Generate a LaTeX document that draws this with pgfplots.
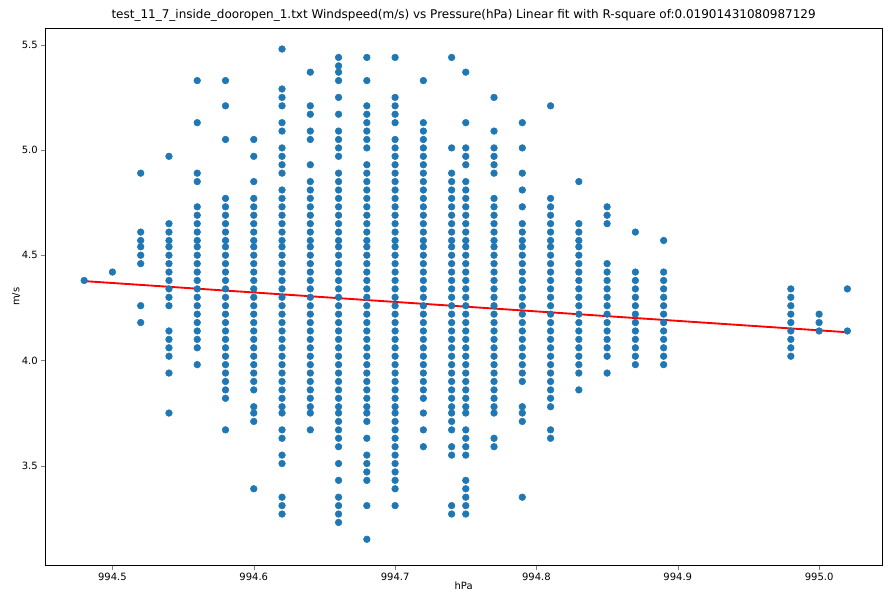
\documentclass[border=0pt]{standalone}
\usepackage{pgfplots}
\pgfplotsset{compat=1.18}
\usepackage{fontspec}
\setmainfont{DejaVu Sans}
\definecolor{mplblue}{HTML}{1F77B4}
\newcommand\col[2]{\addplot[only marks,mark=*,mark size=2.5pt,color=mplblue,mark options={draw=none,fill=mplblue}] table[x expr=#1,y index=0,row sep=\\]{y\\#2\\};}
\begin{document}
\fontsize{7.5pt}{9pt}\selectfont
\begin{tikzpicture}
\begin{axis}[scale only axis,width=628pt,height=403.5pt,
 xmin=994.4525,xmax=995.0445,ymin=3.025,ymax=5.58,
 xtick={994.5,994.6,994.7,994.8,994.9,995.0},
 ytick={3.5,4.0,4.5,5.0,5.5},
 xticklabel style={/pgf/number format/.cd,fixed,fixed zerofill,precision=1,1000 sep={}},
 yticklabel style={/pgf/number format/.cd,fixed,fixed zerofill,precision=1},
 /pgf/number format/assume math mode=true,
 tick align=outside,tick pos=left,major tick length=3pt,
 tick label style={font=\fontsize{7.5pt}{9pt}\selectfont},
 label style={font=\fontsize{7.5pt}{9pt}\selectfont},
 xlabel={hPa},ylabel={m/s},
 xlabel style={yshift=4pt},ylabel style={yshift=-4pt},
 title={test\_11\_7\_inside\_dooropen\_1.txt Windspeed(m/s) vs Pressure(hPa) Linear fit with R-square of:0.01901431080987129},
 title style={font=\fontsize{9pt}{10pt}\selectfont,yshift=-4pt},
 axis line style={black,line width=0.6pt}]
\col{994.48}{4.38}
\col{994.50}{4.42}
\col{994.52}{4.89\\4.61\\4.57\\4.54\\4.50\\4.46\\4.26\\4.18}
\col{994.54}{4.97\\4.65\\4.61\\4.57\\4.54\\4.50\\4.46\\4.42\\4.38\\4.34\\4.30\\4.26\\4.14\\4.10\\4.06\\4.02\\3.94\\3.75}
\col{994.56}{5.33\\5.13\\4.89\\4.85\\4.73\\4.69\\4.65\\4.61\\4.57\\4.54\\4.50\\4.46\\4.42\\4.38\\4.34\\4.30\\4.26\\4.22\\4.18\\4.14\\4.10\\4.06\\3.98}
\col{994.58}{5.33\\5.21\\5.05\\4.77\\4.73\\4.69\\4.65\\4.61\\4.57\\4.54\\4.50\\4.46\\4.42\\4.38\\4.34\\4.30\\4.26\\4.22\\4.18\\4.14\\4.10\\4.06\\4.02\\3.98\\3.94\\3.90\\3.86\\3.82\\3.67}
\col{994.60}{5.05\\4.97\\4.85\\4.77\\4.73\\4.69\\4.65\\4.61\\4.57\\4.54\\4.50\\4.46\\4.42\\4.38\\4.34\\4.30\\4.26\\4.22\\4.18\\4.14\\4.10\\4.06\\4.02\\3.98\\3.94\\3.90\\3.86\\3.78\\3.75\\3.71\\3.39}
\col{994.62}{5.48\\5.29\\5.25\\5.21\\5.13\\5.09\\5.01\\4.97\\4.93\\4.89\\4.81\\4.77\\4.73\\4.69\\4.65\\4.61\\4.57\\4.54\\4.50\\4.46\\4.42\\4.38\\4.34\\4.30\\4.26\\4.22\\4.18\\4.14\\4.10\\4.06\\4.02\\3.98\\3.94\\3.90\\3.86\\3.82\\3.78\\3.75\\3.67\\3.63\\3.55\\3.51\\3.35\\3.31\\3.27}
\col{994.64}{5.37\\5.21\\5.17\\5.09\\5.05\\4.93\\4.85\\4.81\\4.77\\4.73\\4.69\\4.65\\4.61\\4.57\\4.54\\4.50\\4.46\\4.42\\4.38\\4.34\\4.30\\4.26\\4.22\\4.18\\4.14\\4.10\\4.06\\4.02\\3.98\\3.94\\3.90\\3.86\\3.82\\3.78\\3.75\\3.67}
\col{994.66}{5.44\\5.40\\5.37\\5.33\\5.25\\5.17\\5.09\\5.05\\5.01\\4.97\\4.89\\4.85\\4.81\\4.77\\4.73\\4.69\\4.65\\4.61\\4.57\\4.54\\4.50\\4.46\\4.42\\4.38\\4.34\\4.30\\4.26\\4.22\\4.18\\4.14\\4.10\\4.06\\4.02\\3.98\\3.94\\3.90\\3.86\\3.82\\3.78\\3.75\\3.71\\3.67\\3.63\\3.59\\3.51\\3.43\\3.35\\3.31\\3.27\\3.23}
\col{994.68}{5.44\\5.33\\5.21\\5.17\\5.13\\5.09\\5.05\\5.01\\4.93\\4.89\\4.85\\4.81\\4.77\\4.73\\4.69\\4.65\\4.61\\4.57\\4.54\\4.50\\4.46\\4.42\\4.38\\4.34\\4.30\\4.26\\4.22\\4.18\\4.14\\4.10\\4.06\\4.02\\3.98\\3.94\\3.90\\3.86\\3.82\\3.78\\3.75\\3.71\\3.63\\3.55\\3.51\\3.47\\3.43\\3.31\\3.15}
\col{994.70}{5.44\\5.25\\5.21\\5.17\\5.13\\5.05\\5.01\\4.97\\4.93\\4.89\\4.85\\4.81\\4.77\\4.73\\4.69\\4.65\\4.61\\4.57\\4.54\\4.50\\4.46\\4.42\\4.38\\4.34\\4.30\\4.26\\4.22\\4.18\\4.14\\4.10\\4.06\\4.02\\3.98\\3.94\\3.90\\3.86\\3.82\\3.78\\3.75\\3.71\\3.67\\3.63\\3.59\\3.55\\3.51\\3.47\\3.43\\3.39\\3.31}
\col{994.72}{5.33\\5.13\\5.09\\5.05\\5.01\\4.97\\4.93\\4.89\\4.85\\4.81\\4.77\\4.73\\4.69\\4.65\\4.61\\4.57\\4.54\\4.50\\4.46\\4.42\\4.38\\4.34\\4.30\\4.26\\4.22\\4.18\\4.14\\4.10\\4.06\\4.02\\3.98\\3.94\\3.90\\3.86\\3.82\\3.75\\3.67\\3.59}
\col{994.74}{5.44\\5.01\\4.89\\4.85\\4.81\\4.77\\4.73\\4.69\\4.65\\4.61\\4.57\\4.54\\4.50\\4.46\\4.42\\4.38\\4.34\\4.30\\4.26\\4.22\\4.18\\4.14\\4.10\\4.06\\4.02\\3.98\\3.94\\3.90\\3.86\\3.82\\3.78\\3.75\\3.71\\3.67\\3.59\\3.55\\3.31\\3.27}
\col{994.75}{5.37\\5.13\\5.01\\4.97\\4.93\\4.85\\4.81\\4.77\\4.73\\4.69\\4.65\\4.61\\4.57\\4.54\\4.50\\4.46\\4.42\\4.38\\4.34\\4.30\\4.26\\4.22\\4.18\\4.14\\4.10\\4.06\\4.02\\3.98\\3.94\\3.90\\3.86\\3.82\\3.78\\3.75\\3.67\\3.63\\3.59\\3.55\\3.43\\3.39\\3.35\\3.31\\3.27}
\col{994.77}{5.25\\5.09\\5.01\\4.97\\4.93\\4.89\\4.77\\4.73\\4.69\\4.65\\4.61\\4.57\\4.54\\4.50\\4.46\\4.42\\4.38\\4.34\\4.30\\4.26\\4.22\\4.18\\4.14\\4.10\\4.06\\4.02\\3.98\\3.94\\3.90\\3.86\\3.82\\3.78\\3.75\\3.63\\3.59}
\col{994.79}{5.13\\5.01\\4.89\\4.81\\4.73\\4.65\\4.61\\4.57\\4.54\\4.50\\4.46\\4.42\\4.38\\4.34\\4.30\\4.26\\4.22\\4.18\\4.14\\4.10\\4.06\\4.02\\3.98\\3.94\\3.90\\3.78\\3.75\\3.71\\3.35}
\col{994.81}{5.21\\4.77\\4.73\\4.69\\4.65\\4.61\\4.57\\4.54\\4.50\\4.46\\4.42\\4.38\\4.34\\4.30\\4.26\\4.22\\4.18\\4.14\\4.10\\4.06\\4.02\\3.98\\3.94\\3.90\\3.86\\3.82\\3.78\\3.67\\3.63}
\col{994.83}{4.85\\4.65\\4.61\\4.57\\4.54\\4.50\\4.46\\4.42\\4.38\\4.34\\4.30\\4.26\\4.22\\4.18\\4.14\\4.10\\4.06\\4.02\\3.98\\3.94\\3.86}
\col{994.85}{4.73\\4.69\\4.65\\4.46\\4.42\\4.38\\4.34\\4.30\\4.26\\4.22\\4.18\\4.14\\4.10\\4.06\\4.02\\3.94}
\col{994.87}{4.61\\4.42\\4.38\\4.34\\4.30\\4.26\\4.22\\4.18\\4.14\\4.10\\4.06\\4.02\\3.98}
\col{994.89}{4.57\\4.42\\4.38\\4.34\\4.30\\4.26\\4.22\\4.18\\4.14\\4.10\\4.06\\4.02\\3.98}
\col{994.98}{4.34\\4.30\\4.26\\4.22\\4.18\\4.14\\4.10\\4.06\\4.02}
\col{995.00}{4.22\\4.18\\4.14}
\col{995.02}{4.34\\4.14}
\addplot[red,line width=1.4pt] coordinates {(994.48,4.377) (995.02,4.134)};
\end{axis}
\path (current axis.south west)+(-34pt,-28.5pt) rectangle ([shift={(6.75pt,21pt)}]current axis.north east);
\end{tikzpicture}
\end{document}
